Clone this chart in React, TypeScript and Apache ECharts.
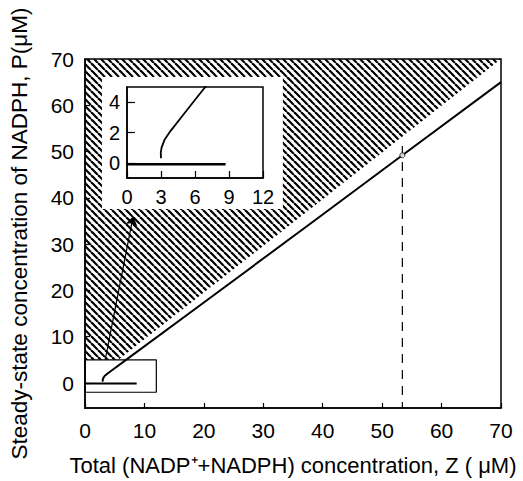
import React, { useEffect, useRef } from "react";
import * as echarts from "echarts";

// ---- data ----
const xTicks = [0, 10, 20, 30, 40, 50, 60, 70];
const yTicks = [0, 10, 20, 30, 40, 50, 60, 70];
const insetXTicks = [0, 3, 6, 9, 12];
const insetYTicks = [0, 2, 4];

// steady-state curve P(Z)
const curveZ = [3.0, 2.98, 3.05, 3.3, 3.8, 5.0, 6.9, 20, 40, 53.4, 70];
const curveP = [0.3, 0.65, 1.0, 1.5, 2.06, 3.2, 5.0, 17.4, 36.4, 49.2, 65.0];
// lower (zero) branch
const baseZ = [0, 8.7];
const baseP = [-0.1, -0.1];
// hatched (forbidden) region
const hatchZ = [0, 5.6, 70, 0];
const hatchP = [5, 5, 70, 70];
// zoom box in main plot
const boxZ = [0, 12, 12, 0, 0];
const boxP = [-2, -2, 5, 5, -2];
// arrow from box to inset
const arrowZ = [3.4, 8.1];
const arrowP = [5, 36];
// marked point with dashed drop line
const markZ = 53.4;
const markP = 49.2;
const dashTopP = 51.2;
const yMin = -5.4;
// white inset background extent (main data coords)
const insetBgZ = [2.85, 33.3];
const insetBgP = [37.6, 66.1];

const FONT = "'Liberation Sans', Arial, Helvetica, sans-serif";

export default function App() {
  const ref = useRef<HTMLDivElement>(null);
  useEffect(() => {
    if (!ref.current) return;
    const chart = echarts.init(ref.current, null, { renderer: "svg" });

    const T = 7;
    const c = document.createElement("canvas");
    c.width = T;
    c.height = T;
    const ctx = c.getContext("2d")!;
    ctx.strokeStyle = "#000";
    ctx.lineWidth = 2.2;
    for (const k of [-T, 0, T]) {
      ctx.beginPath();
      ctx.moveTo(k, 0);
      ctx.lineTo(k + T, T);
      ctx.stroke();
    }
    const pattern: any = { image: c, repeat: "repeat" };

    const black = "#000";
    const labelStyle = { color: black, fontFamily: FONT, fontSize: 21 };
    const insetLabel = { color: black, fontFamily: FONT, fontSize: 20 };

    const curveData = curveZ.map((z, i) => [z, curveP[i]]);
    const baseData = baseZ.map((z, i) => [z, baseP[i]]);

    const option: any = {
      animation: false,
      backgroundColor: "#fff",
      grid: [
        {
          left: 83, top: 59, width: 418, height: 351,
          show: true, borderColor: black, borderWidth: 1.5,
          backgroundColor: "transparent", z: 5,
        },
        {
          left: 127, top: 87, width: 136, height: 91,
          show: true, borderColor: black, borderWidth: 1.5,
          backgroundColor: "#fff", z: 10,
        },
      ],
      xAxis: [
        {
          type: "value", gridIndex: 0, min: 0, max: 70, interval: 10,
          axisLine: { onZero: false, lineStyle: { color: black, width: 1.5 } },
          axisTick: { inside: true, length: 5, lineStyle: { color: black, width: 1.2 } },
          axisLabel: { ...labelStyle, margin: 12, customValues: xTicks },
          splitLine: { show: false },
          name: "Total (NADP\u207A+NADPH) concentration, Z ( \u03BCM)",
          nameLocation: "middle", nameGap: 46,
          nameTextStyle: { color: black, fontFamily: FONT, fontSize: 22 },
        },
        {
          type: "value", gridIndex: 1, min: 0, max: 12, interval: 3, z: 10,
          axisLine: { onZero: false, lineStyle: { color: black, width: 1.5 } },
          axisTick: { inside: true, length: 7, lineStyle: { color: black, width: 1.2 } },
          axisLabel: { ...insetLabel, margin: 9, customValues: insetXTicks },
          splitLine: { show: false },
        },
      ],
      yAxis: [
        {
          type: "value", gridIndex: 0, min: yMin, max: 70,
          axisLine: { onZero: false, lineStyle: { color: black, width: 1.5 } },
          axisTick: { inside: true, length: 5, customValues: yTicks, lineStyle: { color: black, width: 1.2 } },
          axisLabel: { ...labelStyle, margin: 11, customValues: yTicks },
          splitLine: { show: false },
          name: "Steady-state concentration of NADPH, P(\u03BCM)",
          nameLocation: "middle", nameGap: 54,
          nameTextStyle: { color: black, fontFamily: FONT, fontSize: 22.5 },
        },
        {
          type: "value", gridIndex: 1, min: -1, max: 5, z: 10,
          axisLine: { onZero: false, lineStyle: { color: black, width: 1.5 } },
          axisTick: { inside: true, length: 8, customValues: insetYTicks, lineStyle: { color: black, width: 1.2 } },
          axisLabel: { ...insetLabel, margin: 7, customValues: insetYTicks },
          splitLine: { show: false },
        },
      ],
      series: [
        {
          type: "custom", xAxisIndex: 0, yAxisIndex: 0, z: 1, silent: true,
          data: [[0, 0]],
          renderItem: (_p: any, api: any) => ({
            type: "polygon",
            shape: { points: hatchZ.map((z, i) => api.coord([z, hatchP[i]])) },
            style: { fill: pattern, stroke: null },
          }),
        },
        {
          type: "lines", coordinateSystem: "cartesian2d", xAxisIndex: 0, yAxisIndex: 0, z: 2,
          symbol: ["none", "arrow"], symbolSize: 9,
          lineStyle: { color: black, width: 1.2, opacity: 1 },
          data: [{ coords: arrowZ.map((z, i) => [z, arrowP[i]]) }],
        },
        {
          type: "custom", xAxisIndex: 0, yAxisIndex: 0, z: 3, silent: true,
          data: [[0, 0]],
          renderItem: (_p: any, api: any) => {
            const a = api.coord([insetBgZ[0], insetBgP[1]]);
            const b = api.coord([insetBgZ[1], insetBgP[0]]);
            return {
              type: "rect",
              shape: { x: a[0], y: a[1], width: b[0] - a[0], height: b[1] - a[1] },
              style: { fill: "#fff", stroke: null },
            };
          },
        },
        {
          type: "line", xAxisIndex: 0, yAxisIndex: 0, z: 4, symbol: "none",
          lineStyle: { color: black, width: 2 },
          data: curveData,
        },
        {
          type: "line", xAxisIndex: 0, yAxisIndex: 0, z: 4, symbol: "none",
          lineStyle: { color: black, width: 2 },
          data: baseData,
        },
        {
          type: "line", xAxisIndex: 0, yAxisIndex: 0, z: 4, symbol: "none",
          lineStyle: { color: black, width: 1.2 },
          data: boxZ.map((z, i) => [z, boxP[i]]),
        },
        {
          type: "line", xAxisIndex: 0, yAxisIndex: 0, z: 4, symbol: "none",
          lineStyle: { color: black, width: 1.2, type: [9, 7] },
          data: [[markZ, dashTopP], [markZ, yMin]],
        },
        {
          type: "scatter", xAxisIndex: 0, yAxisIndex: 0, z: 6,
          symbol: "circle", symbolSize: 5,
          itemStyle: { color: "#fff", borderColor: black, borderWidth: 1 },
          data: [[markZ, markP]],
        },
        {
          type: "line", xAxisIndex: 1, yAxisIndex: 1, z: 11, symbol: "none",
          lineStyle: { color: black, width: 1.8 },
          data: curveData,
        },
        {
          type: "line", xAxisIndex: 1, yAxisIndex: 1, z: 11, symbol: "none",
          lineStyle: { color: black, width: 2.5 },
          data: baseData,
        },
      ],
    };
    chart.setOption(option);
    return () => chart.dispose();
  }, []);

  return (
    <div
      ref={ref}
      style={{ position: "absolute", left: 0, top: 0, width: 523, height: 481, background: "#fff" }}
    />
  );
}
